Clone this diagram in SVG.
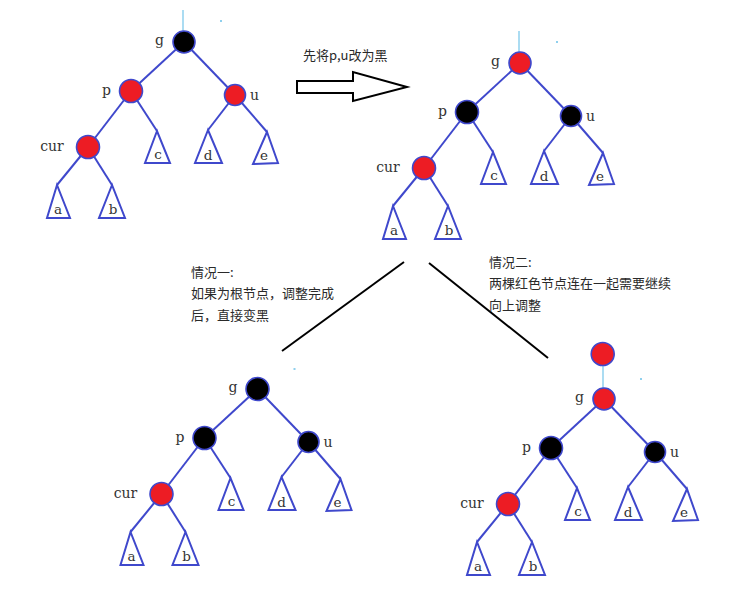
<svg xmlns="http://www.w3.org/2000/svg" width="751" height="589" viewBox="0 0 751 589">
<style>
.e{stroke:#3f48cc;stroke-width:2;fill:none}
.tri{stroke:#3f48cc;stroke-width:2;fill:#fff;stroke-linejoin:miter}
.n{stroke:#3f48cc;stroke-width:1.6}
.r{fill:#ed1c24}
.b{fill:#000}
.lb{font-family:"DejaVu Serif","Liberation Serif",serif;font-size:14px;fill:#333}
.lt{font-family:"DejaVu Serif","Liberation Serif",serif;font-size:13.5px;fill:#333;text-anchor:middle}
.cn{font-family:"Noto Sans CJK SC","Noto Sans",sans-serif;font-size:13px;fill:#2a2a2a}
.sky{stroke:#8fd0ee;stroke-width:1.5}
.dot{fill:#8fd0ee}
.blk{stroke:#000;stroke-width:2;fill:none}
</style>
<rect width="751" height="589" fill="#fff"/>

<!-- free connectors / arrow -->
<g id="connectors-main">
  <polygon points="297,81 353,81 353,72 407,87 353,101 353,93 297,93" fill="#fff" stroke="#000" stroke-width="2"/>
  <line class="blk" x1="404" y1="262" x2="282" y2="351"/>
  <line class="blk" x1="429" y1="263" x2="548" y2="358"/>
</g>
<g id="labels">
  <text class="cn" x="303" y="60">先将p,u改为黑</text>
  <text class="cn" x="191" y="277">情况一:</text>
  <text class="cn" x="191" y="298">如果为根节点，调整完成</text>
  <text class="cn" x="191" y="320">后，直接变黑</text>
  <text class="cn" x="489" y="267">情况二:</text>
  <text class="cn" x="489" y="288">两棵红色节点连在一起需要继续</text>
  <text class="cn" x="489" y="310">向上调整</text>
</g>

<!-- Tree 1 -->
<g id="tree1">
  <g id="t1-connectors">
    <line class="sky" x1="183" y1="10" x2="183" y2="31"/>
    <line class="e" x1="184" y1="42" x2="131" y2="91"/>
    <line class="e" x1="184" y1="42" x2="235" y2="95"/>
    <line class="e" x1="131" y1="91" x2="88" y2="147"/>
    <line class="e" x1="131" y1="91" x2="157" y2="131"/>
    <line class="e" x1="235" y1="95" x2="208" y2="130"/>
    <line class="e" x1="235" y1="95" x2="267" y2="132"/>
    <line class="e" x1="88" y1="147" x2="57" y2="185"/>
    <line class="e" x1="88" y1="147" x2="112" y2="185"/>
  </g>
  <rect class="dot" x="220" y="20" width="2" height="2"/>
  <g id="t1-g"><circle class="n b" cx="184" cy="42" r="11"/><text class="lb" x="155" y="45">g</text></g>
  <g id="t1-p"><circle class="n r" cx="131" cy="91" r="11.5"/><text class="lb" x="102" y="95">p</text></g>
  <g id="t1-u"><circle class="n r" cx="235" cy="95" r="10.5"/><text class="lb" x="250" y="100">u</text></g>
  <g id="t1-cur"><circle class="n r" cx="88" cy="147" r="11.5"/><text class="lb" x="52" y="151" text-anchor="middle">cur</text></g>
  <g id="t1-a"><polygon class="tri" points="57,185 47,218 70,218"/><text class="lt" x="58" y="214">a</text></g>
  <g id="t1-b"><polygon class="tri" points="112,185 99,218 125,218"/><text class="lt" x="113" y="214">b</text></g>
  <g id="t1-c"><polygon class="tri" points="157,131 145,163 170,163"/><text class="lt" x="158" y="159">c</text></g>
  <g id="t1-d"><polygon class="tri" points="208,130 195,163 222,163"/><text class="lt" x="208" y="160">d</text></g>
  <g id="t1-e"><polygon class="tri" points="267,132 253,164 278,163"/><text class="lt" x="264" y="160">e</text></g>
</g>

<!-- Tree 2 -->
<g id="tree2" transform="translate(336,21)">
  <g id="t2-connectors">
    <line class="sky" x1="183" y1="10" x2="183" y2="31"/>
    <line class="e" x1="184" y1="42" x2="131" y2="91"/>
    <line class="e" x1="184" y1="42" x2="235" y2="95"/>
    <line class="e" x1="131" y1="91" x2="88" y2="147"/>
    <line class="e" x1="131" y1="91" x2="157" y2="131"/>
    <line class="e" x1="235" y1="95" x2="208" y2="130"/>
    <line class="e" x1="235" y1="95" x2="267" y2="132"/>
    <line class="e" x1="88" y1="147" x2="57" y2="185"/>
    <line class="e" x1="88" y1="147" x2="112" y2="185"/>
  </g>
  <rect class="dot" x="220" y="20" width="2" height="2"/>
  <g id="t2-g"><circle class="n r" cx="184" cy="42" r="11"/><text class="lb" x="155" y="45">g</text></g>
  <g id="t2-p"><circle class="n b" cx="131" cy="91" r="11.5"/><text class="lb" x="102" y="95">p</text></g>
  <g id="t2-u"><circle class="n b" cx="235" cy="95" r="10.5"/><text class="lb" x="250" y="100">u</text></g>
  <g id="t2-cur"><circle class="n r" cx="88" cy="147" r="11.5"/><text class="lb" x="52" y="151" text-anchor="middle">cur</text></g>
  <g id="t2-a"><polygon class="tri" points="57,185 47,218 70,218"/><text class="lt" x="58" y="214">a</text></g>
  <g id="t2-b"><polygon class="tri" points="112,185 99,218 125,218"/><text class="lt" x="113" y="214">b</text></g>
  <g id="t2-c"><polygon class="tri" points="157,131 145,163 170,163"/><text class="lt" x="158" y="159">c</text></g>
  <g id="t2-d"><polygon class="tri" points="208,130 195,163 222,163"/><text class="lt" x="208" y="160">d</text></g>
  <g id="t2-e"><polygon class="tri" points="267,132 253,164 278,163"/><text class="lt" x="264" y="160">e</text></g>
</g>

<!-- Tree 3 -->
<g id="tree3" transform="translate(73.5,347)">
  <g id="t3-connectors">
    <line class="e" x1="184" y1="42" x2="131" y2="91"/>
    <line class="e" x1="184" y1="42" x2="235" y2="95"/>
    <line class="e" x1="131" y1="91" x2="88" y2="147"/>
    <line class="e" x1="131" y1="91" x2="157" y2="131"/>
    <line class="e" x1="235" y1="95" x2="208" y2="130"/>
    <line class="e" x1="235" y1="95" x2="267" y2="132"/>
    <line class="e" x1="88" y1="147" x2="57" y2="185"/>
    <line class="e" x1="88" y1="147" x2="112" y2="185"/>
  </g>
  <rect class="dot" x="220" y="21" width="2" height="2"/>
  <g id="t3-g"><circle class="n b" cx="184" cy="42" r="11.5"/><text class="lb" x="155" y="45">g</text></g>
  <g id="t3-p"><circle class="n b" cx="131" cy="91" r="11.5"/><text class="lb" x="102" y="95">p</text></g>
  <g id="t3-u"><circle class="n b" cx="235" cy="95" r="10.5"/><text class="lb" x="250" y="100">u</text></g>
  <g id="t3-cur"><circle class="n r" cx="88" cy="147" r="11.5"/><text class="lb" x="52" y="151" text-anchor="middle">cur</text></g>
  <g id="t3-a"><polygon class="tri" points="57,185 47,218 70,218"/><text class="lt" x="58" y="214">a</text></g>
  <g id="t3-b"><polygon class="tri" points="112,185 99,218 125,218"/><text class="lt" x="113" y="214">b</text></g>
  <g id="t3-c"><polygon class="tri" points="157,131 145,163 170,163"/><text class="lt" x="158" y="159">c</text></g>
  <g id="t3-d"><polygon class="tri" points="208,130 195,163 222,163"/><text class="lt" x="208" y="160">d</text></g>
  <g id="t3-e"><polygon class="tri" points="267,132 253,164 278,163"/><text class="lt" x="264" y="160">e</text></g>
</g>

<!-- Tree 4 -->
<g id="tree4" transform="translate(420,357)">
  <g id="t4-connectors">
    <line class="sky" x1="183" y1="9" x2="183" y2="31"/>
    <line class="e" x1="184" y1="42" x2="131" y2="91"/>
    <line class="e" x1="184" y1="42" x2="235" y2="95"/>
    <line class="e" x1="131" y1="91" x2="88" y2="147"/>
    <line class="e" x1="131" y1="91" x2="157" y2="131"/>
    <line class="e" x1="235" y1="95" x2="208" y2="130"/>
    <line class="e" x1="235" y1="95" x2="267" y2="132"/>
    <line class="e" x1="88" y1="147" x2="57" y2="185"/>
    <line class="e" x1="88" y1="147" x2="112" y2="185"/>
  </g>
  <rect class="dot" x="220" y="21" width="2" height="2"/>
  <g id="t4-top"><circle class="n r" cx="182.7" cy="-3" r="11.5"/></g>
  <g id="t4-g"><circle class="n r" cx="184" cy="42" r="11"/><text class="lb" x="155" y="45">g</text></g>
  <g id="t4-p"><circle class="n b" cx="131" cy="91" r="11.5"/><text class="lb" x="102" y="95">p</text></g>
  <g id="t4-u"><circle class="n b" cx="235" cy="95" r="10.5"/><text class="lb" x="250" y="100">u</text></g>
  <g id="t4-cur"><circle class="n r" cx="88" cy="147" r="11.5"/><text class="lb" x="52" y="151" text-anchor="middle">cur</text></g>
  <g id="t4-a"><polygon class="tri" points="57,185 47,218 70,218"/><text class="lt" x="58" y="214">a</text></g>
  <g id="t4-b"><polygon class="tri" points="112,185 99,218 125,218"/><text class="lt" x="113" y="214">b</text></g>
  <g id="t4-c"><polygon class="tri" points="157,131 145,163 170,163"/><text class="lt" x="158" y="159">c</text></g>
  <g id="t4-d"><polygon class="tri" points="208,130 195,163 222,163"/><text class="lt" x="208" y="160">d</text></g>
  <g id="t4-e"><polygon class="tri" points="267,132 253,164 278,163"/><text class="lt" x="264" y="160">e</text></g>
</g>
</svg>
